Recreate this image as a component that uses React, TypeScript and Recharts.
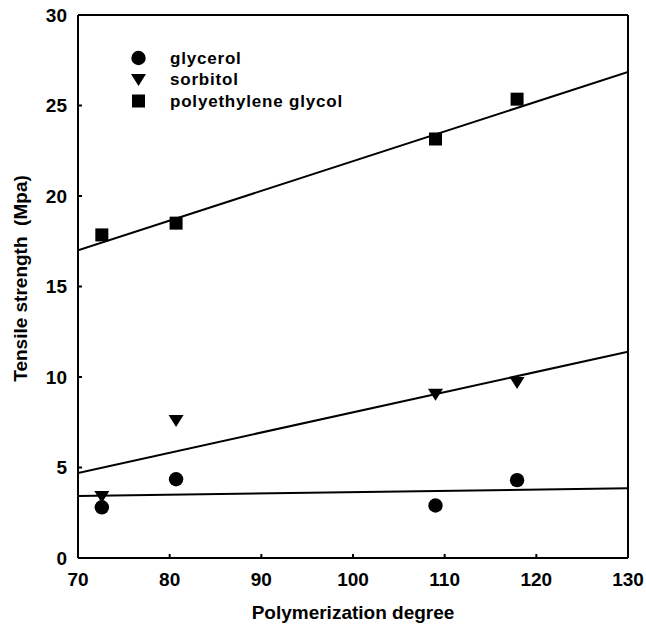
import React from 'react';
import { ComposedChart, XAxis, YAxis, Scatter, Line, ReferenceLine } from 'recharts';

const xTicks = [70, 80, 90, 100, 110, 120, 130];
const yTicks = [0, 5, 10, 15, 20, 25, 30];

const degree = [72.6, 80.7, 109, 117.9];
const glycerol = [2.8, 4.35, 2.9, 4.3];
const sorbitol = [3.4, 7.6, 9.05, 9.7];
const peg = [17.85, 18.5, 23.15, 25.35];

const lineX = [70, 130];
const glycerolFit = [3.43, 3.85];
const sorbitolFit = [4.7, 11.4];
const pegFit = [17.0, 26.85];

const seriesNames = ['glycerol', 'sorbitol', 'polyethylene glycol'];
const xTitle = 'Polymerization degree';
const yTitle = 'Tensile strength\u00a0\u00a0(Mpa)';

const toPts = (ys: number[]) => degree.map((x, i) => ({ x, y: ys[i] }));
const toFit = (ys: number[]) => lineX.map((x, i) => ({ x, y: ys[i] }));

const FONT = 'Liberation Sans, Arial, sans-serif';

const Circle = (p: any) => <circle cx={p.cx} cy={p.cy} r={7.2} fill="#000" />;
const Tri = (p: any) => (
  <path d={`M${p.cx - 7.5},${p.cy - 5.5} L${p.cx + 7.5},${p.cy - 5.5} L${p.cx},${p.cy + 6.5} Z`} fill="#000" />
);
const Square = (p: any) => <rect x={p.cx - 6.5} y={p.cy - 6.5} width={13} height={13} fill="#000" />;

const shapes = [Circle, Tri, Square];

const LegendBox = () => (
  <g>
    {seriesNames.map((n, i) => {
      const S = shapes[i];
      const cy = 58 + i * 21.5;
      return (
        <g key={n}>
          <S cx={138.5} cy={cy} />
          <text x={170} y={cy + 5.5} fontSize={17} fontWeight="bold" letterSpacing={0.8} fontFamily={FONT} fill="#000">{n}</text>
        </g>
      );
    })}
  </g>
);

const XTitle = (p: any) => {
  const vb = p.viewBox || {};
  return (
    <text x={vb.x + vb.width / 2} y={619} textAnchor="middle" fontSize={19} fontWeight="bold" fontFamily={FONT} fill="#000">{xTitle}</text>
  );
};
const YTitle = (p: any) => {
  const vb = p.viewBox || {};
  const cy = vb.y + vb.height / 2 - 8;
  return (
    <text x={27} y={cy} transform={`rotate(-90, 27, ${cy})`} textAnchor="middle" fontSize={19} fontWeight="bold" fontFamily={FONT} fill="#000">{yTitle}</text>
  );
};

export default function App() {
  return (
    <div style={{ width: 646, height: 631, overflow: 'visible' }}>
      <style>{'html,body{margin:0;padding:0;overflow:hidden}'}</style>
      <ComposedChart width={646} height={631} margin={{ top: 15, right: 18, left: 0, bottom: 0 }} style={{ overflow: 'visible' }}>
        <XAxis
          dataKey="x"
          type="number"
          domain={[70, 130]}
          ticks={xTicks}
          allowDataOverflow
          height={73}
          stroke="#000"
          strokeWidth={2}
          tickSize={-4}
          tickMargin={19}
          tick={{ fill: '#000', fontSize: 19, fontWeight: 'bold', fontFamily: FONT }}
          label={<XTitle />}
        />
        <YAxis
          dataKey="y"
          type="number"
          domain={[0, 30]}
          ticks={yTicks}
          allowDataOverflow
          width={78}
          stroke="#000"
          strokeWidth={2}
          tickSize={-4}
          tickMargin={15}
          tick={{ fill: '#000', fontSize: 19, fontWeight: 'bold', fontFamily: FONT }}
          label={<YTitle />}
        />
        <ReferenceLine y={30} stroke="#000" strokeWidth={2} />
        <ReferenceLine x={130} stroke="#000" strokeWidth={2} />
        <Line data={toFit(glycerolFit)} dataKey="y" stroke="#000" strokeWidth={2} dot={false} isAnimationActive={false} />
        <Line data={toFit(sorbitolFit)} dataKey="y" stroke="#000" strokeWidth={2} dot={false} isAnimationActive={false} />
        <Line data={toFit(pegFit)} dataKey="y" stroke="#000" strokeWidth={2} dot={false} isAnimationActive={false} />
        <Scatter name={seriesNames[0]} data={toPts(glycerol)} shape={Circle} isAnimationActive={false} />
        <Scatter name={seriesNames[1]} data={toPts(sorbitol)} shape={Tri} isAnimationActive={false} />
        <Scatter name={seriesNames[2]} data={toPts(peg)} shape={Square} isAnimationActive={false} />
        <LegendBox />
      </ComposedChart>
    </div>
  );
}
